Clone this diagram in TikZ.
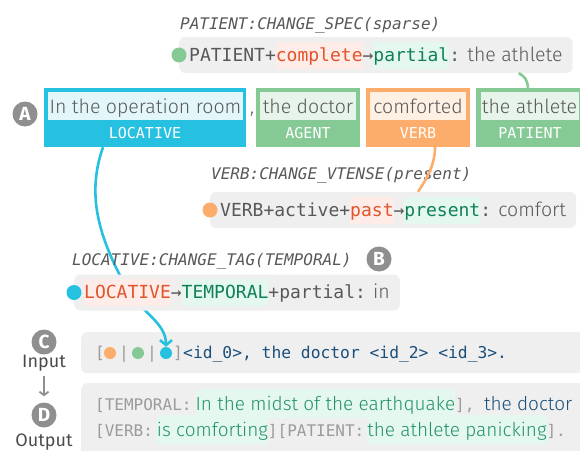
\documentclass[tikz,border=0pt]{standalone}
\usepackage{fontspec}
\setmainfont{Fira Sans Light}
\setmonofont{DejaVu Sans Mono}[ItalicFont={DejaVu Sans Mono Oblique}]
\newfontfamily\badgefont{Fira Sans}
\usetikzlibrary{positioning,calc,arrows.meta}
\definecolor{locCyan}{RGB}{38,193,224}
\definecolor{roleGreen}{RGB}{133,201,148}
\definecolor{verbOrange}{RGB}{253,173,107}
\definecolor{panelGray}{RGB}{239,239,239}
\definecolor{inkGray}{RGB}{88,88,88}
\definecolor{bracketGray}{RGB}{155,155,155}
\definecolor{markGray}{RGB}{143,143,143}
\definecolor{oldRed}{RGB}{226,84,44}
\definecolor{oldRedBg}{RGB}{253,236,231}
\definecolor{newGreen}{RGB}{16,128,88}
\definecolor{newGreenBg}{RGB}{228,248,239}
\definecolor{idBlue}{RGB}{27,79,122}
\definecolor{genGreen}{RGB}{36,146,102}
\newcommand{\spanbg}[3]{{\setlength{\fboxsep}{0pt}\colorbox{#1}{\rule[-0.4em]{0pt}{1.5em}\color{#2}#3}}}
\newcommand{\oldval}[1]{\spanbg{oldRedBg}{oldRed}{#1}}
\newcommand{\newval}[1]{\spanbg{newGreenBg}{newGreen}{#1}}
\newcommand{\genval}[1]{\spanbg{newGreenBg}{genGreen}{#1}}
\newcommand{\tagtxt}[1]{{\color{bracketGray}\ttfamily\fontsize{16}{16}\selectfont #1}}
\newcommand{\spantxt}[1]{{\rmfamily\fontsize{19.5}{21}\selectfont #1}}

\begin{document}
\begin{tikzpicture}[x=1pt,y=-1pt,
    panel/.style={fill=panelGray,rounded corners=6pt,inner sep=0pt,anchor=north west},
    rulebox/.style={fill=panelGray,rounded corners=6pt,anchor=west,inner xsep=10pt,inner ysep=4.5pt,
                    font=\fontsize{18}{20}\selectfont,text=inkGray},
    ruletitle/.style={anchor=base west,inner sep=0pt,font=\ttfamily\itshape\fontsize{16}{16}\selectfont,text=inkGray},
    ruledot/.style={circle,fill=#1,minimum size=15pt,inner sep=0pt},
    smalldot/.style={circle,fill=#1,minimum size=12pt,inner sep=0pt},
    rolebox/.style={fill=#1,minimum height=59pt,inner sep=0pt},
    wordbox/.style={fill=#1,minimum height=28pt,inner sep=0pt,text height=14pt,text depth=0pt,
                    font=\fontsize{19.5}{21}\selectfont,text=inkGray},
    rolename/.style={anchor=base,inner sep=0pt,font=\ttfamily\fontsize{15}{15}\selectfont,text=white},
    badge/.style={circle,fill=markGray,minimum size=25pt,inner sep=0pt,text=white,
                  font=\badgefont\bfseries\fontsize{19}{19}\selectfont},
    stagename/.style={inner sep=0pt,font=\badgefont\fontsize{18}{18}\selectfont,text=inkGray!85!black},
    monotxt/.style={anchor=base west,inner sep=0pt,font=\ttfamily\fontsize{16.3}{16}\selectfont},
    genline/.style={anchor=base west,inner sep=0pt,font=\fontsize{19}{21}\selectfont},
    link/.style={draw=#1,line width=2.6pt}
]
\useasboundingbox (0,0) rectangle (580,450);
\clip (0,0) rectangle (580,450);

\node[badge] (abadge) at (25,114) {A};
\node[rolebox=locCyan,minimum width=202pt] (loc) at (145,117.5) {};
\node[wordbox=locCyan!13,minimum width=195pt] (locword) at (145.5,106) {In the operation room};
\node[rolename] at (145,138.5) {LOCATIVE};
\node[genline,text=inkGray] (comma) at (250,113) {,};
\node[rolebox=roleGreen,minimum width=104pt] (agent) at (308,117.5) {};
\node[wordbox=roleGreen!20,minimum width=96pt] (agentword) at (308,106) {the doctor};
\node[rolename] at (308,138.5) {AGENT};
\node[rolebox=verbOrange,minimum width=104pt] (verb) at (418,117.5) {};
\node[wordbox=verbOrange!18,minimum width=96pt] (verbword) at (418,106) {comforted};
\node[rolename] at (418,138.5) {VERB};
\node[rolebox=roleGreen,minimum width=108pt] (patient) at (530,117.5) {};
\node[wordbox=roleGreen!20,minimum width=98pt] (patientword) at (529.5,106) {the athlete};
\node[rolename] at (530,138.5) {PATIENT};

\node[badge] (cbadge) at (44,342) {C};
\node[stagename] (inlabel) at (44,363) {Input};
\node[badge] (dbadge) at (44,415) {D};
\node[stagename] (outlabel) at (44,442) {Output};
\draw[draw=markGray,line width=1.8pt,shorten <=5pt,shorten >=6pt,-{Straight Barb[length=3.5pt,width=9pt]}] (inlabel.south) -- (dbadge.north);

\node[panel,minimum width=510pt,minimum height=41pt] (input) at (81,332) {};
\node[monotxt,text=bracketGray] (inopen) at (95,358.5) {[};
\node[smalldot=verbOrange] (indota) at (110,353) {};
\node[monotxt,text=bracketGray,anchor=base] at (124,358.5) {|};
\node[smalldot=roleGreen] (indotb) at (138,353) {};
\node[monotxt,text=bracketGray,anchor=base] at (152,358.5) {|};
\node[smalldot=locCyan] (indotc) at (166,353) {};
\node[monotxt,text=bracketGray,anchor=base] (inclose) at (178,358.5) {]};
\node[monotxt,text=idBlue] (inseq) at (183,358.5) {<id\_0>, the doctor <id\_2> <id\_3>.};

\node[panel,minimum width=510pt,minimum height=80pt] (output) at (81,383) {};
\node[genline] (outa) at (95,410) {\tagtxt{[TEMPORAL:}\hspace{4pt}\genval{In the midst of the earthquake}\tagtxt{],\ }{\color{idBlue}the doctor}};
\node[genline] (outb) at (95,436) {\tagtxt{[VERB:}\hspace{4pt}\genval{is comforting}\tagtxt{][PATIENT:}\hspace{3pt}\genval{the athlete panicking}\tagtxt{].}};

\draw[link=locCyan,-{Straight Barb[length=5pt,width=12pt]}] ([xshift=-42pt]loc.south)
    .. controls (88,190) and (95,230) .. (125,285)
    .. controls (140,312) and (166,322) .. (indotc.north);

\node[ruletitle] (pattitle) at (180,29) {PATIENT:CHANGE\_SPEC(sparse)};
\node[rulebox] (patrule) at (179,55) {\ttfamily PATIENT+\oldval{complete}→\newval{partial}:\spantxt{ the athlete}};
\node[ruledot=roleGreen] (patdot) at (patrule.west) {};

\node[ruletitle] (verbtitle) at (211,179) {VERB:CHANGE\_VTENSE(present)};
\node[rulebox] (verbrule) at (210,210) {\ttfamily VERB+active+\oldval{past}→\newval{present}:\spantxt{ comfort}};
\node[ruledot=verbOrange] (verbdot) at (verbrule.west) {};

\node[ruletitle] (loctitle) at (72,265) {LOCATIVE:CHANGE\_TAG(TEMPORAL)};
\node[badge] (bbadge) at (379,259) {B};
\node[rulebox] (locrule) at (74,292.5) {\ttfamily\oldval{LOCATIVE}→\newval{TEMPORAL}+partial:\spantxt{ in}};
\node[ruledot=locCyan] (locdot) at (locrule.west) {};

\draw[link=roleGreen] ([xshift=-54pt]patrule.south east) .. controls +(7,4) and +(-1,-8) .. ([xshift=-2pt]patient.north);
\draw[link=verbOrange] ([xshift=17pt]verb.south) .. controls +(0,18) and +(8,-12) .. ([xshift=208pt]verbrule.north west);
\end{tikzpicture}
\end{document}
